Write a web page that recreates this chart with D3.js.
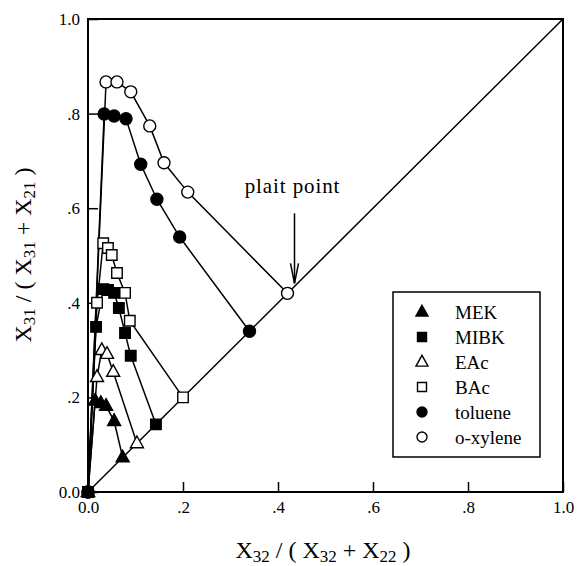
<!DOCTYPE html>
<html>
<head>
<meta charset="utf-8">
<script src="https://cdn.jsdelivr.net/npm/d3@7"></script>
<style>
  body { margin: 0; background: #fff; }
  text { font-family: "Liberation Serif", "DejaVu Serif", serif; fill: #000; }
</style>
</head>
<body>
<div id="chart"></div>
<script>
// tie-line end points, x = X32/(X32+X22), y = X31/(X31+X21)
const MEK     = [[0,0],[0.015,0.193],[0.027,0.188],[0.038,0.182],[0.055,0.150],[0.073,0.073]];
const MIBK    = [[0,0],[0.017,0.349],[0.032,0.429],[0.042,0.427],[0.055,0.421],[0.065,0.389],[0.078,0.336],[0.090,0.288],[0.143,0.143]];
const EAc     = [[0,0],[0.019,0.243],[0.029,0.300],[0.040,0.292],[0.053,0.254],[0.103,0.103]];
const BAc     = [[0,0],[0.019,0.400],[0.032,0.526],[0.042,0.516],[0.050,0.501],[0.061,0.463],[0.078,0.421],[0.088,0.362],[0.200,0.200]];
const toluene = [[0,0],[0.034,0.799],[0.055,0.795],[0.080,0.789],[0.111,0.693],[0.145,0.619],[0.193,0.539],[0.340,0.340]];
const oXylene = [[0,0],[0.038,0.867],[0.061,0.867],[0.090,0.846],[0.130,0.774],[0.160,0.696],[0.210,0.634],[0.420,0.420]];
const diagonal = [[0,0],[1,1]];
const plaitPoint = [0.42, 0.42];
const ticks = [0, 0.2, 0.4, 0.6, 0.8, 1.0];

const series = [
  { name: "MEK",      data: MEK,     shape: "triangle", fill: "#000" },
  { name: "MIBK",     data: MIBK,    shape: "square",   fill: "#000" },
  { name: "EAc",      data: EAc,     shape: "triangle", fill: "#fff" },
  { name: "BAc",      data: BAc,     shape: "square",   fill: "#fff" },
  { name: "toluene",  data: toluene, shape: "circle",   fill: "#000" },
  { name: "o-xylene", data: oXylene, shape: "circle",   fill: "#fff" }
];

const width = 581, height = 566;
const x = d3.scaleLinear().domain([0, 1]).range([88, 563]);
const y = d3.scaleLinear().domain([0, 1]).range([492, 19]);

const svg = d3.select("#chart").append("svg")
  .attr("width", width).attr("height", height);

const fmt = d => d === 0 ? "0.0" : d === 1 ? "1.0" : d3.format(".1f")(d).replace(/^0/, "");

// axes with inward ticks
const xAxis = svg.append("g")
  .attr("transform", `translate(0,${y(0)})`)
  .call(d3.axisBottom(x).tickValues(ticks).tickSize(-10).tickPadding(9).tickFormat(fmt));
const yAxis = svg.append("g")
  .attr("transform", `translate(${x(0)},0)`)
  .call(d3.axisLeft(y).tickValues(ticks).tickSize(-10).tickPadding(8).tickFormat(fmt));

[xAxis, yAxis].forEach(g => {
  g.select(".domain").remove();
  g.selectAll("line").attr("stroke", "#000").attr("stroke-width", 1.5);
  g.selectAll("text").style("font-size", "17px").attr("fill", "#000");
});

// frame
svg.append("rect")
  .attr("x", x(0)).attr("y", y(1))
  .attr("width", x(1) - x(0)).attr("height", y(0) - y(1))
  .attr("fill", "none").attr("stroke", "#000").attr("stroke-width", 2);

const line = d3.line().x(d => x(d[0])).y(d => y(d[1]));

// diagonal
svg.append("path").datum(diagonal)
  .attr("d", line).attr("fill", "none").attr("stroke", "#000").attr("stroke-width", 1.5);

// series lines
svg.selectAll("path.series").data(series).join("path")
  .attr("class", "series")
  .attr("d", d => line(d.data))
  .attr("fill", "none").attr("stroke", "#000").attr("stroke-width", 1.5);

function symbolPath(shape, s) {
  if (shape === "triangle") {
    const h = s * 0.9;
    return `M0,${-h * 0.62}L${s / 2},${h * 0.38}L${-s / 2},${h * 0.38}Z`;
  }
  if (shape === "square") return `M${-s / 2},${-s / 2}h${s}v${s}h${-s}Z`;
  return d3.arc()({ innerRadius: 0, outerRadius: s / 2, startAngle: 0, endAngle: 2 * Math.PI });
}
const markerSize = { triangle: 13, square: 10.5, circle: 12 };

// markers, MIBK last so its square sits at the origin
const order = [0, 2, 3, 4, 5, 1];
order.forEach(i => {
  const s = series[i];
  svg.append("g").selectAll("path").data(s.data).join("path")
    .attr("transform", d => `translate(${x(d[0])},${y(d[1])})`)
    .attr("d", symbolPath(s.shape, markerSize[s.shape]))
    .attr("fill", s.fill).attr("stroke", "#000").attr("stroke-width", 1.4);
});

// plait point annotation
const px = x(plaitPoint[0]) + 7, py = y(plaitPoint[1]) - 10;
svg.append("line")
  .attr("x1", px).attr("x2", px).attr("y1", py - 70).attr("y2", py)
  .attr("stroke", "#000").attr("stroke-width", 1.5);
svg.append("path")
  .attr("d", `M${px - 4},${py - 20}L${px},${py}L${px + 4},${py - 20}`)
  .attr("fill", "none").attr("stroke", "#000").attr("stroke-width", 1.5);
svg.append("text")
  .attr("x", px - 2).attr("y", py - 90)
  .attr("text-anchor", "middle")
  .style("font-size", "21px")
  .style("letter-spacing", "0.9px")
  .text("plait point");

// legend
const lg = svg.append("g").attr("transform", "translate(393,292)");
lg.append("rect").attr("width", 147).attr("height", 165)
  .attr("fill", "#fff").attr("stroke", "#000").attr("stroke-width", 1.5);
const legendSize = { triangle: 12, square: 9, circle: 10 };
const rows = lg.selectAll("g").data(series).join("g")
  .attr("transform", (d, i) => `translate(29,${20 + i * 25})`);
rows.append("path")
  .attr("d", d => symbolPath(d.shape, legendSize[d.shape]))
  .attr("fill", d => d.fill).attr("stroke", "#000").attr("stroke-width", 1.4);
rows.append("text")
  .attr("x", 33).attr("dy", "0.35em")
  .style("font-size", "19px")
  .text(d => d.name);

// axis titles with subscripts
function title(g, parts) {
  const t = g.append("text").attr("text-anchor", "middle").style("font-size", "24px");
  parts.forEach(([s, sub]) => {
    const ts = t.append("tspan").text(s);
    if (sub) ts.attr("baseline-shift", "-25%").style("font-size", "17px");
  });
  return t;
}
title(svg.append("g").attr("transform", "translate(323,558)"),
  [["X"], ["32", 1], [" / ( X"], ["32", 1], [" + X"], ["22", 1], [" )"]]);
title(svg.append("g").attr("transform", "translate(31,255) rotate(-90)"),
  [["X"], ["31", 1], [" / ( X"], ["31", 1], [" + X"], ["21", 1], [" )"]]);
</script>
</body>
</html>
